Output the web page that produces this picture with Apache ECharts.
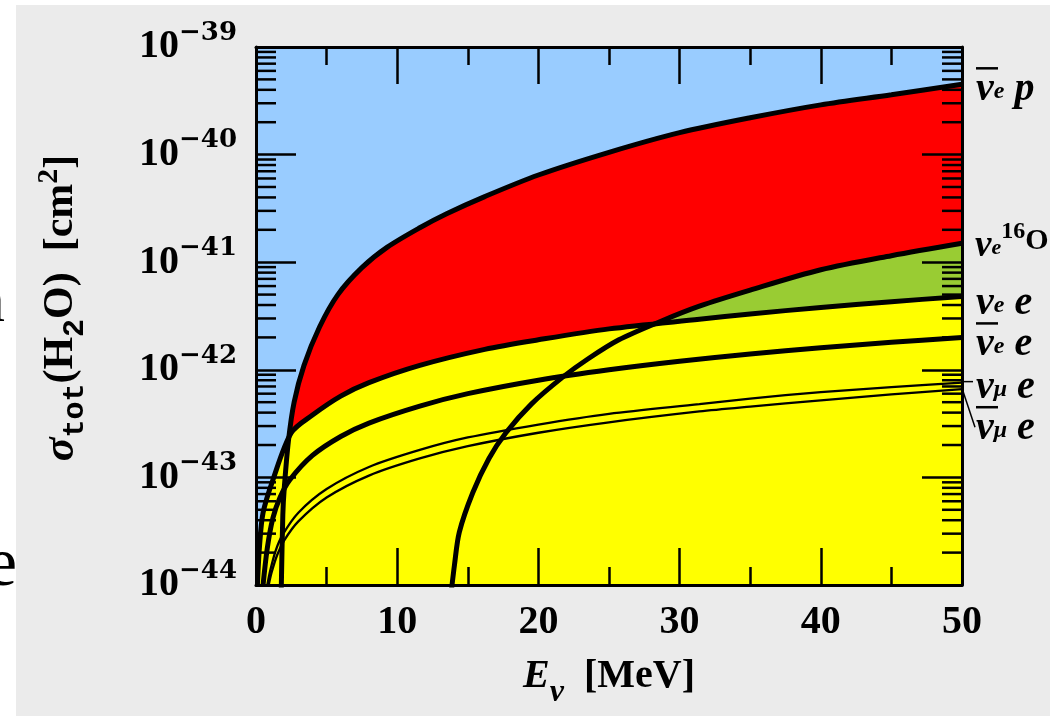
<!DOCTYPE html>
<html><head><meta charset="utf-8">
<script src="https://cdn.jsdelivr.net/npm/echarts@6/dist/echarts.min.js"></script>
<style>html,body{margin:0;padding:0;background:#fff;}#c{width:1050px;height:716px;}</style>
</head><body><div id="c"></div>
<script>
// ---- data (E in MeV, sigma in cm^2 per H2O molecule) ----
const xTickValues = [0, 10, 20, 30, 40, 50];
const yDecades = [-44, -43, -42, -41, -40, -39];

const ibdE   = [1.78, 1.9, 2.0, 2.3, 2.7, 3.4, 4.5, 5.8, 7.5, 9.3, 11.6, 13.5, 16.2, 20, 25, 30, 35, 40, 45, 50];
const ibdSig = [0.8e-44, 4.5e-44, 7.9e-44, 2.2e-43, 5.0e-43, 1.1e-42, 2.5e-42, 5.0e-42, 8.9e-42, 1.38e-41, 2.09e-41, 2.82e-41, 4.07e-41, 6.46e-41, 1.05e-40, 1.6e-40, 2.2e-40, 2.9e-40, 3.6e-40, 4.5e-40];

const oxE   = [13.75, 14.06, 14.4, 15.35, 16.5, 17.7, 19.5, 21.7, 23.5, 25.7, 28.6, 31.4, 35, 40, 45, 50];
const oxSig = [0.7e-44, 1.55e-44, 3.1e-44, 7.2e-44, 1.5e-43, 2.6e-43, 4.8e-43, 8.5e-43, 1.26e-42, 1.9e-42, 2.8e-42, 3.9e-42, 5.5e-42, 8.5e-42, 1.15e-41, 1.5e-41];

const nueE   = [0.1, 0.25, 0.5, 1.2, 2.5, 4, 6, 8, 11.6, 16.2, 20, 25, 31.4, 35, 40, 45, 50];
const nueSig = [1.0e-44, 2.3e-44, 4.7e-44, 9.5e-44, 2.6e-43, 3.8e-43, 5.7e-43, 7.6e-43, 1.1e-42, 1.55e-42, 1.9e-42, 2.4e-42, 2.95e-42, 3.3e-42, 3.8e-42, 4.3e-42, 4.8e-42];

const anueE   = [0.5, 0.8, 1.2, 1.7, 2.4, 4, 6, 8, 11.6, 15, 20, 25, 30, 35, 40, 45, 50];
const anueSig = [1.0e-44, 2.2e-44, 4.2e-44, 6.5e-44, 9.5e-44, 1.6e-43, 2.4e-43, 3.2e-43, 4.6e-43, 6.0e-43, 8.0e-43, 1.0e-42, 1.2e-42, 1.4e-42, 1.6e-42, 1.8e-42, 2.0e-42];

const numE   = [0.8, 1.0, 1.4, 1.9, 3, 5, 8, 11.6, 15, 20, 25, 31.4, 35, 40, 45, 50];
const numSig = [1.0e-44, 1.35e-44, 2.1e-44, 2.95e-44, 4.7e-44, 7.8e-44, 1.25e-43, 1.8e-43, 2.35e-43, 3.1e-43, 3.9e-43, 4.8e-43, 5.4e-43, 6.2e-43, 6.9e-43, 7.6e-43];

const anumE   = [0.9, 1.1, 1.5, 2.0, 3, 5, 8, 11.6, 15, 20, 25, 31.4, 35, 40, 45, 50];
const anumSig = [1.0e-44, 1.3e-44, 1.9e-44, 2.6e-44, 3.9e-44, 6.5e-44, 1.04e-43, 1.5e-43, 1.95e-43, 2.6e-43, 3.25e-43, 4.1e-43, 4.55e-43, 5.2e-43, 5.9e-43, 6.6e-43];

// ---- build ----
const pts = (E, S) => E.map((e, i) => [e, Math.log10(S[i])]);
const serif = 'Liberation Serif';
const BL = '#000';

const labRich = {
  ob: {fontSize: 1, width: 22, height: 2.5, lineHeight: 3, backgroundColor: BL},
  g:  {fontFamily: serif, fontStyle: 'italic', fontWeight: 'bold', fontSize: 40, lineHeight: 22, verticalAlign: 'top', color: BL},
  s:  {fontFamily: serif, fontStyle: 'italic', fontWeight: 'bold', fontSize: 24, lineHeight: 22, verticalAlign: 'top', color: BL, padding: [10, 0, 0, 0]},
  gd: {fontFamily: serif, fontStyle: 'italic', fontWeight: 'bold', fontSize: 37, lineHeight: 22, verticalAlign: 'top', color: BL, padding: [8, 0, 0, 0]},
  sd: {fontFamily: serif, fontStyle: 'italic', fontWeight: 'bold', fontSize: 22, lineHeight: 22, verticalAlign: 'top', color: BL, padding: [17, 0, 0, 0]},
  u:  {fontFamily: serif, fontWeight: 'bold', fontSize: 24, lineHeight: 24, verticalAlign: 'top', color: BL},
  od: {fontFamily: serif, fontWeight: 'bold', fontSize: 30, lineHeight: 30, verticalAlign: 'top', color: BL, padding: [6, 0, 0, 0]}
};
const endLab = (txt, off, dist) => ({show: true, formatter: txt, rich: labRich, distance: dist || 14, offset: off, align: 'left', verticalAlign: 'middle'});

const fill = (data, color, z) => ({
  type: 'line', data, smooth: 0.3, showSymbol: false, symbol: 'none',
  lineStyle: {width: 0}, areaStyle: {color, opacity: 1, origin: 'start'}, z, silent: true, clip: true
});
const curve = (name, data, w, lab) => ({
  type: 'line', name, data, smooth: 0.3, showSymbol: false, symbol: 'none',
  lineStyle: {width: w, color: BL}, z: 6, silent: true, clip: true, endLabel: lab
});

const minorData = [];
yDecades.slice(0, -1).forEach(n => { for (let k = 2; k <= 9; k++) { minorData.push([0, n + Math.log10(k)]); minorData.push([1, n + Math.log10(k)]); } });

const leaderData = [[50, Math.log10(numSig[numSig.length - 1]), 0], [50, Math.log10(anumSig[anumSig.length - 1]), 1]];

const xAxisBase = {
  type: 'value', min: 0, max: 50, interval: 10, z: 10,
  axisLine: {show: true, onZero: false, lineStyle: {color: BL, width: 3}},
  axisTick: {show: true, inside: true, length: 37, lineStyle: {color: BL, width: 2.5}},
  minorTick: {show: true, splitNumber: 2, length: 18, lineStyle: {color: BL, width: 2.5}},
  splitLine: {show: false}, minorSplitLine: {show: false}
};
const yAxisBase = {
  type: 'value', min: -44, max: -39, interval: 1, z: 10,
  axisLine: {show: true, onZero: false, lineStyle: {color: BL, width: 3}},
  axisTick: {show: true, inside: true, length: 40, lineStyle: {color: BL, width: 2.5}},
  splitLine: {show: false}
};

const option = {
  backgroundColor: '#ebebeb',
  animation: false,
  grid: {left: 256, top: 47, width: 706, height: 538, show: true, backgroundColor: '#99ccff', borderWidth: 0, containLabel: false, outerBoundsMode: 'none'},
  xAxis: [
    Object.assign({}, xAxisBase, {
      position: 'bottom',
      axisLabel: {show: true, margin: 18, fontFamily: serif, fontWeight: 'bold', fontSize: 40, color: BL, showMinLabel: true, showMaxLabel: true},
      name: '{i|E}{sb|ν}{n|  [MeV]}', nameLocation: 'middle', nameGap: 72,
      nameTextStyle: {rich: {
        i: {fontFamily: serif, fontStyle: 'italic', fontWeight: 'bold', fontSize: 40, lineHeight: 44, verticalAlign: 'top', color: BL},
        sb: {fontFamily: serif, fontStyle: 'italic', fontWeight: 'bold', fontSize: 32, lineHeight: 32, verticalAlign: 'top', color: BL, padding: [20, 0, 0, 0]},
        n: {fontFamily: serif, fontWeight: 'bold', fontSize: 40, lineHeight: 44, verticalAlign: 'top', color: BL}
      }}
    }),
    Object.assign({}, xAxisBase, {position: 'top', axisLabel: {show: false}})
  ],
  yAxis: [
    Object.assign({}, yAxisBase, {
      position: 'left',
      axisLabel: {show: true, margin: 19, showMinLabel: true, showMaxLabel: true,
        formatter: v => '{b|10}{s|−' + Math.round(-v) + '}',
        padding: [0, 0, 10, 0],
        rich: {
          b: {fontFamily: serif, fontWeight: 'bold', fontSize: 40, lineHeight: 50, verticalAlign: 'bottom', color: BL},
          s: {fontFamily: 'DejaVu Serif', fontWeight: 'bold', fontSize: 26, lineHeight: 30, verticalAlign: 'top', color: BL, padding: [3, 0, 0, 0]}
        }},
      name: '{s|σ}{t|tot}{n|(H}{t|2}{n|O)  [cm}{u|2}{n|]}', nameLocation: 'middle', nameGap: 172, nameRotate: 90,
      nameTextStyle: {padding: [0, 0, 0, 16], rich: {
        s: {fontFamily: serif, fontStyle: 'italic', fontWeight: 'bold', fontSize: 44, lineHeight: 44, verticalAlign: 'top', color: BL},
        t: {fontFamily: 'Liberation Mono', fontWeight: 'bold', fontSize: 30, lineHeight: 30, verticalAlign: 'top', color: BL, padding: [20, 0, 0, 0]},
        u: {fontFamily: serif, fontWeight: 'bold', fontSize: 30, lineHeight: 30, verticalAlign: 'top', color: BL, padding: [-6, 0, 0, 0]},
        n: {fontFamily: serif, fontWeight: 'bold', fontSize: 42, lineHeight: 44, verticalAlign: 'top', color: BL}
      }}
    }),
    Object.assign({}, yAxisBase, {position: 'right', axisLabel: {show: false}})
  ],
  graphic: [
    {type: 'rect', left: 0, top: 0, shape: {width: 16, height: 716}, style: {fill: '#fff'}, z: 100},
    {type: 'rect', left: 0, top: 0, shape: {width: 1050, height: 5}, style: {fill: '#fff'}, z: 100},
    {type: 'text', x: -27, y: 272, style: {text: 'n', font: '64px "Liberation Serif"', fill: '#000'}, z: 101},
    {type: 'text', x: -14, y: 532, style: {text: 'e', font: '70px "Liberation Serif"', fill: '#000'}, z: 101}
  ],
  series: [
    fill(pts(ibdE, ibdSig), '#ff0000', 1),
    fill(pts(oxE, oxSig), '#99cc33', 2),
    fill(pts(nueE, nueSig), '#ffff00', 3),
    curve('ibd', pts(ibdE, ibdSig), 5, endLab('{ob| }\n{g|ν}{s|e}{g| p}', [0, -5])),
    curve('ox', pts(oxE, oxSig), 5, endLab('{gd|ν}{sd|e}{u|16}{od|O}', [0, -8], 13)),
    curve('nue', pts(nueE, nueSig), 5, endLab('{g|ν}{s|e}{g| e}', [0, -2])),
    curve('anue', pts(anueE, anueSig), 5, endLab('{ob| }\n{g|ν}{s|e}{g| e}', [0, -3])),
    curve('num', pts(numE, numSig), 2.3, endLab('{g|ν}{s|μ}{g| e}', [0, -4])),
    curve('anum', pts(anumE, anumSig), 2.3, endLab('{ob| }\n{g|ν}{s|μ}{g| e}', [0, 29])),
    {
      type: 'custom', data: minorData, z: 12, silent: true, clip: false,
      renderItem: (params, api) => {
        const side = api.value(0);
        const p = api.coord([side === 0 ? 0 : 50, api.value(1)]);
        const x2 = side === 0 ? p[0] + 20 : p[0] - 20;
        return {type: 'line', shape: {x1: p[0], y1: p[1], x2, y2: p[1]}, style: {stroke: BL, lineWidth: 2.5}};
      }
    },
    {
      type: 'custom', data: leaderData, z: 12, silent: true, clip: false,
      renderItem: (params, api) => {
        const p = api.coord([api.value(0), api.value(1)]);
        const shape = api.value(2) === 0
          ? {x1: p[0] + 1, y1: p[1] - 1, x2: p[0] + 11, y2: p[1] - 1}
          : {x1: p[0] + 1, y1: p[1] + 2, x2: p[0] + 13, y2: p[1] + 38};
        return {type: 'line', shape, style: {stroke: BL, lineWidth: 1.5}};
      }
    }
  ]
};
const chart = echarts.init(document.getElementById('c'));
chart.setOption(option);
</script></body></html>
